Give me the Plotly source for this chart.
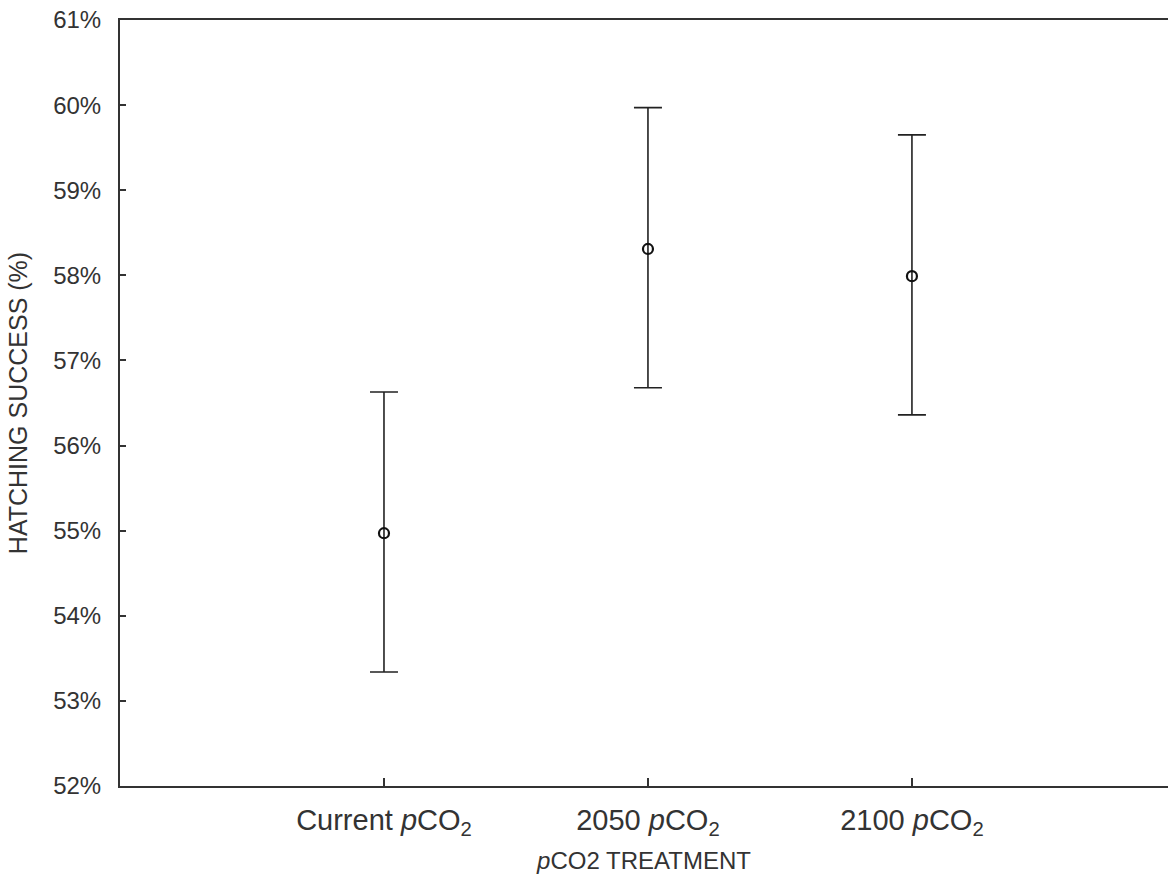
import plotly.graph_objects as go

categories = ["Current <i>p</i>CO<sub>2</sub>", "2050 <i>p</i>CO<sub>2</sub>", "2100 <i>p</i>CO<sub>2</sub>"]
means = [54.97, 58.31, 57.99]
upper = [56.63, 59.97, 59.65]
lower = [53.34, 56.68, 56.36]
y_ticks = [52, 53, 54, 55, 56, 57, 58, 59, 60, 61]
y_tick_labels = ["52%", "53%", "54%", "55%", "56%", "57%", "58%", "59%", "60%", "61%"]

xpos = list(range(len(categories)))
err_plus = [u - m for u, m in zip(upper, means)]
err_minus = [m - l for m, l in zip(means, lower)]

fig = go.Figure(go.Scatter(
    x=xpos, y=means, mode="markers",
    marker=dict(symbol="circle-open", size=10, color="#111", line=dict(width=2.2, color="#111")),
    error_y=dict(type="data", symmetric=False, array=err_plus, arrayminus=err_minus,
                 color="#222", thickness=1.6, width=14),
    showlegend=False,
))

fig.update_layout(
    width=1168, height=883,
    margin=dict(l=120, r=0, t=20, b=97),
    paper_bgcolor="white", plot_bgcolor="white",
    font=dict(family="Liberation Sans, Arial, sans-serif", color="#333"),
)
fig.update_xaxes(
    range=[-1, 2.97], tickvals=xpos, ticktext=categories,
    showline=True, linecolor="#333", linewidth=2, mirror=True,
    ticks="inside", ticklen=8, tickwidth=1.5, tickcolor="#333",
    showgrid=False, zeroline=False,
    tickfont=dict(size=29, color="#333"),
    ticklabelstandoff=7,
    title=dict(text="<i>p</i>CO2 TREATMENT", font=dict(size=24, color="#333"), standoff=13),
)
fig.update_yaxes(
    range=[52, 61], tickvals=y_ticks, ticktext=y_tick_labels,
    showline=True, linecolor="#333", linewidth=2, mirror=False,
    ticks="inside", ticklen=6, tickwidth=1.5, tickcolor="#333",
    showgrid=False, zeroline=False,
    tickfont=dict(size=24, color="#333"),
    ticklabelstandoff=12,
    title=dict(text="HATCHING SUCCESS (%)", font=dict(size=25, color="#333"), standoff=18),
)

fig.write_html("out.html")
